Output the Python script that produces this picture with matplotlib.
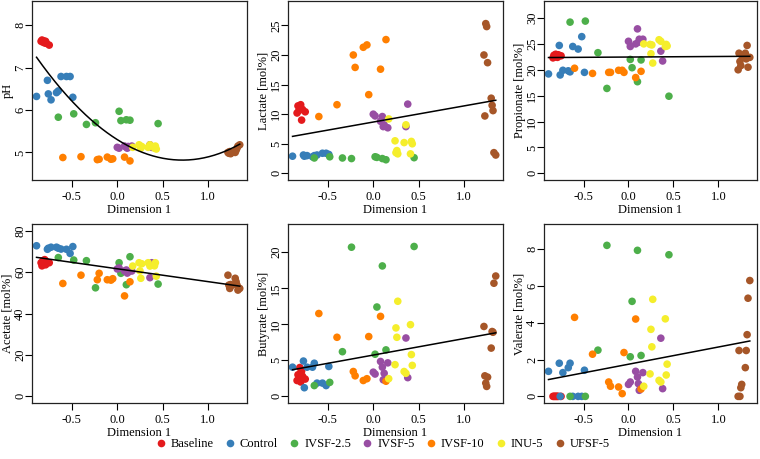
import numpy as np
import matplotlib.pyplot as plt
from matplotlib.lines import Line2D

plt.rcParams['font.family'] = ['Liberation Serif', 'DejaVu Serif']

groups = ['Baseline', 'Control', 'IVSF-2.5', 'IVSF-5', 'IVSF-10', 'INU-5', 'UFSF-5']
colors = ['#E41A1C', '#377EB8', '#4DAF4A', '#984EA3', '#FF7F00', '#F5EE2C', '#A65628']

# Dimension 1 score of every sample, per group
dim1 = [
    [-0.84, -0.83, -0.82, -0.81, -0.80, -0.79, -0.78, -0.75],
    [-0.89, -0.77, -0.76, -0.73, -0.67, -0.65, -0.62, -0.56, -0.52, -0.49],
    [-0.65, -0.48, -0.34, -0.24, 0.02, 0.04, 0.10, 0.14, 0.45],
    [0.00, 0.02, 0.08, 0.10, 0.11, 0.12, 0.16, 0.36, 0.38],
    [-0.60, -0.40, -0.22, -0.20, -0.11, -0.07, -0.05, 0.08, 0.14],
    [0.17, 0.24, 0.25, 0.26, 0.27, 0.34, 0.36, 0.41, 0.42, 0.43],
    [1.22, 1.23, 1.24, 1.25, 1.26, 1.30, 1.31, 1.32, 1.33, 1.35],
]

ph = [
    [7.62, 7.65, 7.60, 7.63, 7.58, 7.62, 7.57, 7.53],
    [6.32, 6.70, 6.38, 6.24, 6.41, 6.45, 6.79, 6.79, 6.79, 6.30],
    [5.83, 5.91, 5.66, 5.70, 5.97, 5.75, 5.77, 5.76, 5.68],
    [5.12, 5.10, 5.15, 5.12, 5.10, 5.14, 5.15, 5.18, 5.12],
    [4.88, 4.90, 4.83, 4.84, 4.89, 4.84, 4.85, 4.89, 4.80],
    [5.12, 5.18, 5.15, 5.10, 5.14, 5.12, 5.18, 5.10, 5.15, 5.08],
    [5.00, 4.98, 5.02, 4.97, 5.00, 5.00, 5.05, 5.10, 5.15, 5.18],
]

lactate = [
    [10.2, 11.4, 10.6, 11.0, 11.6, 9.0, 10.8, 10.4],
    [2.9, 3.1, 2.9, 3.0, 2.8, 3.0, 3.1, 3.4, 3.4, 3.2],
    [2.6, 2.8, 2.6, 2.5, 2.8, 2.7, 2.5, 2.3, 2.65],
    [10.0, 9.7, 8.8, 9.6, 7.9, 8.2, 7.7, 7.9, 11.7],
    [9.6, 11.6, 20.0, 17.9, 21.3, 21.7, 13.3, 17.6, 22.6],
    [9.2, 5.5, 3.5, 3.85, 3.3, 5.2, 8.2, 3.3, 5.4, 5.0],
    [20.0, 9.7, 25.3, 24.8, 18.7, 12.7, 11.5, 10.6, 3.5, 3.1],
]

propionate = [
    [22.3, 22.8, 22.5, 23.0, 22.6, 22.4, 22.9, 22.7],
    [19.2, 24.7, 19.0, 19.9, 19.8, 19.6, 24.5, 24.0, 26.4, 19.5],
    [29.2, 29.4, 23.3, 16.4, 22.0, 20.4, 17.7, 21.9, 14.9],
    [25.5, 24.5, 25.0, 27.9, 25.3, 25.9, 25.9, 23.6, 21.7],
    [20.3, 19.3, 19.5, 19.5, 19.9, 19.9, 19.5, 18.5, 19.7],
    [25.0, 24.9, 23.1, 24.8, 21.3, 25.8, 25.5, 24.5, 24.9, 24.6],
    [20.0, 23.2, 21.6, 20.8, 22.8, 23.2, 22.1, 24.7, 20.5, 22.4],
]

acetate = [
    [64.5, 63.0, 65.5, 64.0, 66.0, 63.5, 65.0, 64.5],
    [72.7, 71.0, 71.5, 72.0, 72.0, 71.5, 71.1, 71.0, 69.0, 72.3],
    [67.0, 65.8, 65.5, 52.4, 64.5, 59.4, 53.9, 67.4, 54.2],
    [61.5, 62.0, 60.5, 61.0, 59.5, 60.0, 60.5, 57.3, 64.5],
    [54.5, 58.5, 56.3, 59.4, 56.3, 56.1, 56.8, 48.5, 55.3],
    [62.9, 64.5, 60.6, 57.0, 64.0, 64.5, 62.9, 63.0, 64.5, 58.0],
    [58.5, 53.7, 52.1, 54.0, 53.5, 57.0, 55.3, 53.7, 51.3, 52.1],
]

butyrate = [
    [2.2, 3.0, 2.5, 4.0, 2.0, 3.5, 2.8, 2.4],
    [4.05, 4.9, 1.2, 4.05, 4.05, 4.6, 1.84, 1.84, 1.5, 4.15],
    [1.5, 1.94, 6.2, 20.7, 5.85, 12.4, 18.1, 6.45, 20.8],
    [3.36, 3.1, 4.84, 4.05, 2.3, 3.2, 4.65, 8.1, 2.6],
    [11.5, 8.2, 3.45, 2.85, 2.2, 2.45, 8.3, 11.1, 2.1],
    [2.45, 4.4, 9.5, 8.2, 13.2, 3.45, 3.2, 9.95, 5.8, 4.3],
    [9.7, 2.85, 1.84, 1.38, 2.67, 6.7, 9.0, 8.9, 15.7, 16.7],
]

valerate = [
    [0, 0, 0, 0, 0, 0, 0, 0],
    [1.36, 1.8, 0, 1.29, 1.56, 1.8, 0, 0, 0, 1.42],
    [0, 0, 2.51, 8.2, 2.15, 5.16, 7.93, 2.22, 7.69],
    [0.65, 0.78, 1.36, 1.05, 0.69, 0.33, 1.29, 3.16, 0.42],
    [4.29, 2.29, 0.78, 0.55, 0.51, 0.15, 2.38, 4.2, 0.4],
    [0.55, 1.22, 3.64, 2.69, 5.27, 0.87, 0.78, 4.21, 1.16, 1.75],
    [0, 2.49, 0, 0.47, 0.65, 1.56, 2.49, 3.35, 5.33, 6.29],
]

# values, y label, y limits, y ticks, degree of the fitted curve
panels = [
    (ph, 'pH', (4.35, 8.57), [5, 6, 7, 8], 2),
    (lactate, 'Lactate [mol%]', (-1.12, 29.12), [0, 5, 10, 15, 20, 25], 1),
    (propionate, 'Propionate [mol%]', (-1.28, 33.28), [0, 5, 10, 15, 20, 25, 30], 1),
    (acetate, 'Acetate [mol%]', (-3.2, 83.2), [0, 20, 40, 60, 80], 1),
    (butyrate, 'Butyrate [mol%]', (-0.92, 23.92), [0, 5, 10, 15, 20], 1),
    (valerate, 'Valerate [mol%]', (-0.36, 9.36), [0, 2, 4, 6, 8], 1),
]

W, H = 760, 459
fig = plt.figure(figsize=(W / 100, H / 100), dpi=100)
lefts = [32, 288, 544]
widths = [215, 215, 213]
tops = [1, 224]

for i, (vals, label, ylim, yticks, deg) in enumerate(panels):
    r, c = divmod(i, 3)
    ax = fig.add_axes([lefts[c] / W, 1 - (tops[r] + 179) / H, widths[c] / W, 179 / H])
    for g in range(len(groups)):
        ax.scatter(dim1[g], vals[g], s=30, color=colors[g], edgecolors='none', zorder=2)
    allx = np.concatenate([np.array(v) for v in dim1])
    ally = np.concatenate([np.array(v) for v in vals])
    coef = np.polyfit(allx, ally, deg)
    xx = np.linspace(allx.min(), allx.max(), 200)
    ax.plot(xx, np.polyval(coef, xx), color='black', lw=1.1, zorder=3)

    ax.set_ylim(*ylim)
    ax.set_xlim(-0.94, 1.43)
    ax.set_xticks([-0.5, 0.0, 0.5, 1.0])
    ax.set_xticklabels(['-0.5', '0.0', '0.5', '1.0'])
    ax.set_yticks(yticks)
    ax.tick_params(labelsize=9, length=5, width=0.8, direction='out')
    ax.tick_params(axis='x', pad=3)
    ax.tick_params(axis='y', pad=3.5)
    for lab in ax.get_yticklabels():
        lab.set_rotation(90)
        lab.set_va('center')
        lab.set_ha('center')
    for s in ax.spines.values():
        s.set_linewidth(0.9)
        s.set_color('#222222')
    ax.set_xlabel('Dimension 1', fontsize=9, labelpad=0.5)
    ax.set_ylabel(label, fontsize=9, labelpad=0.5)

handles = [Line2D([], [], marker='o', ls='none', color=colors[g], markersize=5.5,
                  markeredgewidth=0) for g in range(len(groups))]
fig.legend(handles, groups, loc='center', bbox_to_anchor=(382 / W, 1 - 444 / H), ncol=7,
           frameon=False, fontsize=9, handletextpad=0.3, columnspacing=0.8,
           handlelength=1.0)

fig.savefig('out.png', dpi=100)
